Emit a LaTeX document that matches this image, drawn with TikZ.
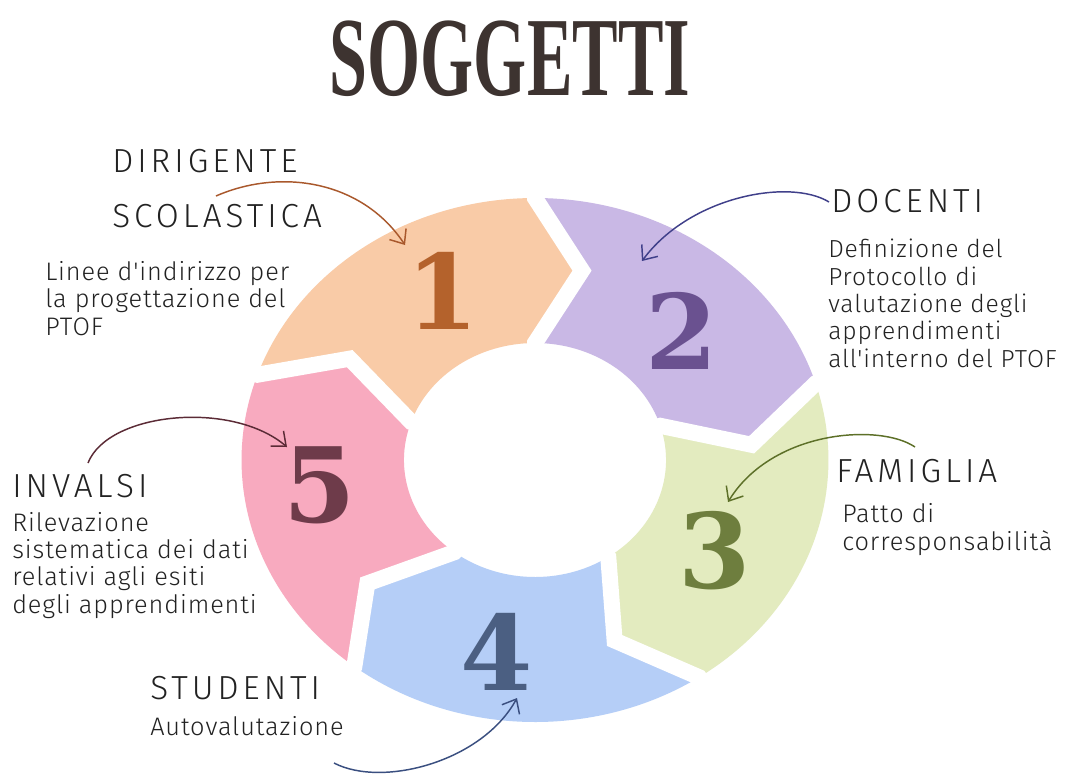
\documentclass[tikz,border=0pt]{standalone}
\usepackage{fontspec}
\usepackage{graphicx}
\usetikzlibrary{arrows.meta}
\IfFontExistsTF{Fira Sans Light}
  {\newfontfamily\handfont{Fira Sans Light}[LetterSpace=3.5]\newfontfamily\headfont{Fira Sans Light}[LetterSpace=12]}
  {\newfontfamily\handfont{Fira Sans}[LetterSpace=3.5]\newfontfamily\headfont{Fira Sans}[LetterSpace=12]}
\newfontfamily\titlefont{Liberation Serif}
\newfontfamily\numfont{DejaVu Serif}
\definecolor{ink}{HTML}{222222}
\definecolor{titlec}{HTML}{3D3330}
\definecolor{segA}{HTML}{F9CBA7}
\definecolor{segB}{HTML}{C9B8E5}
\definecolor{segC}{HTML}{E3EBBF}
\definecolor{segD}{HTML}{B5CEF7}
\definecolor{segE}{HTML}{F8AABF}
\definecolor{numA}{HTML}{B4622C}
\definecolor{numB}{HTML}{6A5190}
\definecolor{numC}{HTML}{6E7E3E}
\definecolor{numD}{HTML}{4B5F82}
\definecolor{numE}{HTML}{6E3B4A}
\definecolor{arrA}{HTML}{A9582C}
\definecolor{arrB}{HTML}{40408A}
\definecolor{arrC}{HTML}{5D7028}
\definecolor{arrD}{HTML}{3A4F80}
\definecolor{arrE}{HTML}{5B2B36}
\begin{document}
\begin{tikzpicture}[x=0.75pt,y=-0.75pt,
  head/.style={font=\headfont\fontsize{25}{28}\selectfont, anchor=base west, inner sep=0pt, text=ink},
  body/.style={font=\handfont\fontsize{19}{20.5}\selectfont, anchor=base west, inner sep=0pt, align=left, text=ink},
  num/.style={font=\numfont\bfseries\fontsize{78}{78}\selectfont, inner sep=0pt},
  conn/.style={line width=1.1pt, -{Straight Barb[length=9pt,width=15pt,line width=1.1pt]}},
  gap/.style={white, line width=12pt, line join=miter, miter limit=20}
]
\useasboundingbox (0,0) rectangle (1067,776);
\fill[white] (0,0) rectangle (1067,776);

% ring
\begin{scope}[shift={(535,460)}, xscale=1.12, yscale=-1]
  \foreach \a/\b/\c in {161/90/segA, 90/17/segB, 17/-56/segC, -56/-128/segD, -128/-199/segE}{
    \fill[\c] (\a:262) arc[start angle=\a, end angle=\b, radius=262]
      -- ({\b-12.5}:194) -- (\b:117) arc[start angle=\b, end angle=\a, radius=117]
      -- ({\a-12.5}:194) -- cycle;
  }
  \foreach \b in {161,90,17,-56,-128}{
    \draw[gap] (\b:285) -- (\b:262) -- ({\b-12.5}:194) -- (\b:117) -- (\b:95);
  }
\end{scope}

% numbers
\node[num, text=numA] (n1) at (443,291) {1};
\node[num, text=numB] (n2) at (682,331) {2};
\node[num, text=numC] (n3) at (715,551) {3};
\node[num, text=numD] (n4) at (497,652) {4};
\node[num, text=numE] (n5) at (320,485) {5};

% title
\node[text=titlec, inner sep=0pt] (title) at (510,59) {\resizebox{270pt}{56pt}{\titlefont\bfseries SOGGETTI}};

% labels (multi-line nodes: base = last line)
\node[head] (dir1) at (112,172) {DIRIGENTE};
\node[head] (dir2) at (112,227) {SCOLASTICA};
\node[body] (dirt) at (45,335) {Linee d'indirizzo per\\la progettazione del\\PTOF};
\node[head] (doc) at (831,212) {DOCENTI};
\node[body, font=\handfont\fontsize{18.5}{20.5}\selectfont] (doct) at (828,367) {Definizione del\\Protocollo di\\valutazione degli\\apprendimenti\\all'interno del PTOF};
\node[head] (fam) at (836,482) {FAMIGLIA};
\node[body] (famt) at (842,550) {Patto di\\corresponsabilità};
\node[head] (inv) at (12,497) {INVALSI};
\node[body] (invt) at (12,613) {Rilevazione\\sistematica dei dati\\relativi agli esiti\\degli apprendimenti};
\node[head] (stu) at (150,699) {STUDENTI};
\node[body] (stut) at (150,735) {Autovalutazione};

% arrows
\coordinate (a1s) at (216,196); \coordinate (a1e) at (405,245);
\coordinate (a2s) at (829,202); \coordinate (a2e) at (642,261);
\coordinate (a3s) at (915,447); \coordinate (a3e) at (728,502);
\coordinate (a4s) at (334,763); \coordinate (a4e) at (517,698);
\coordinate (a5s) at (88,463);  \coordinate (a5e) at (287,447);
\draw[conn, arrA] (a1s) .. controls (280,168) and (362,180) .. (a1e);
\draw[conn, arrB] (a2s) .. controls (790,178) and (690,196) .. (a2e);
\draw[conn, arrC] (a3s) .. controls (880,423) and (772,430) .. (a3e);
\draw[conn, arrD] (a4s) .. controls (382,788) and (482,762) .. (a4e);
\draw[conn, arrE] (a5s) .. controls (108,412) and (232,400) .. (a5e);
\end{tikzpicture}
\end{document}
